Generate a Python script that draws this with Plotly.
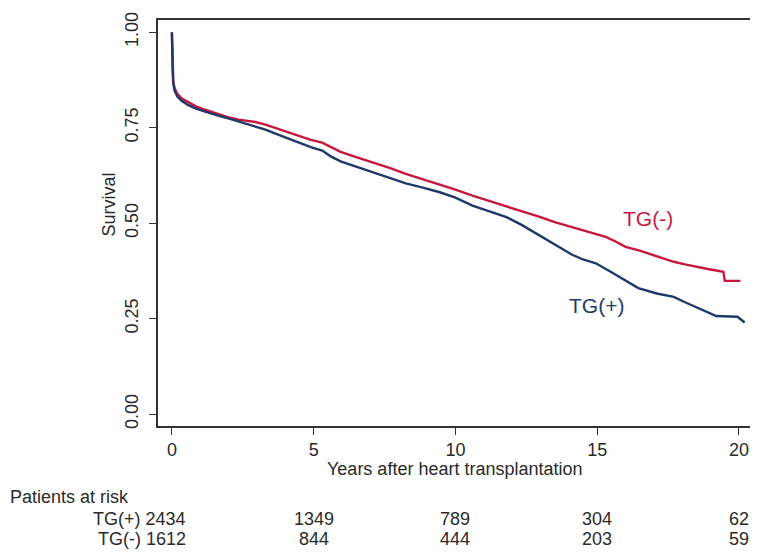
import plotly.graph_objects as go

# ---- data ----
t_neg = [0.0, 0.01, 0.03, 0.05, 0.1, 0.2, 0.35, 0.58, 0.85, 1.17, 1.45, 1.75, 2.05, 2.35, 2.65, 2.95,
         3.3, 3.7, 4.1, 4.5, 4.9, 5.3, 5.6, 5.95, 6.5, 7.1, 7.7, 8.25, 8.85, 9.45, 10.0, 10.6, 11.2,
         11.8, 12.35, 12.95, 13.5, 14.1, 14.7, 15.3, 15.65, 16.0, 16.5, 17.1, 17.7, 18.1, 18.45, 18.9,
         19.45, 19.5, 20.05]
s_neg = [1.000, 0.950, 0.900, 0.870, 0.852, 0.838, 0.826, 0.816, 0.806, 0.797, 0.790, 0.782, 0.776,
         0.771, 0.768, 0.765, 0.758, 0.748, 0.738, 0.728, 0.718, 0.711, 0.700, 0.687, 0.673, 0.659,
         0.644, 0.629, 0.615, 0.601, 0.588, 0.572, 0.558, 0.545, 0.531, 0.517, 0.503, 0.490, 0.477,
         0.464, 0.452, 0.438, 0.428, 0.413, 0.399, 0.392, 0.386, 0.380, 0.373, 0.349, 0.349]

t_pos = [0.0, 0.01, 0.03, 0.05, 0.1, 0.2, 0.35, 0.58, 0.85, 1.17, 1.45, 1.75, 2.05, 2.35, 2.65, 2.95,
         3.3, 3.7, 4.1, 4.5, 4.9, 5.3, 5.6, 5.95, 6.5, 7.1, 7.7, 8.25, 8.85, 9.45, 10.0, 10.6, 11.2,
         11.8, 12.35, 12.95, 13.5, 14.1, 14.5, 14.95, 15.4, 15.85, 16.45, 17.1, 17.7, 18.1, 18.45,
         18.8, 19.2, 19.95, 20.1, 20.2]
s_pos = [1.000, 0.940, 0.890, 0.865, 0.846, 0.831, 0.820, 0.809, 0.800, 0.792, 0.785, 0.779, 0.773,
         0.766, 0.760, 0.754, 0.745, 0.733, 0.721, 0.710, 0.699, 0.690, 0.675, 0.662, 0.648, 0.634,
         0.619, 0.604, 0.593, 0.581, 0.567, 0.546, 0.531, 0.516, 0.495, 0.468, 0.443, 0.418, 0.405,
         0.395, 0.376, 0.356, 0.330, 0.316, 0.307, 0.293, 0.282, 0.270, 0.257, 0.255, 0.245, 0.240]

risk_times = [0, 5, 10, 15, 20]
risk_pos = [2434, 1349, 789, 304, 62]
risk_neg = [1612, 844, 444, 203, 59]
x_ticks = [0, 5, 10, 15, 20]
y_ticks = [0.0, 0.25, 0.5, 0.75, 1.0]
y_ticklabels = ["0.00", "0.25", "0.50", "0.75", "1.00"]

RED = "#C8173F"
BLUE = "#1F3A68"
FONT = "Liberation Sans, Arial, sans-serif"
TXT = "#2a2a2a"

fig = go.Figure()
fig.add_trace(go.Scatter(x=t_neg, y=s_neg, mode="lines", line=dict(color=RED, width=2.4),
                         name="TG(-)", showlegend=False))
fig.add_trace(go.Scatter(x=t_pos, y=s_pos, mode="lines", line=dict(color=BLUE, width=2.4),
                         name="TG(+)", showlegend=False))


def txt(x, y, text, xref="paper", yref="paper", size=18, color=TXT, xanchor="center", angle=0):
    return dict(x=x, y=y, xref=xref, yref=yref, text=text, showarrow=False, textangle=angle,
                xanchor=xanchor, yanchor="middle", font=dict(family=FONT, size=size, color=color))


ann = []
# curve labels
ann.append(txt(16.8, 0.513, "TG(-)", xref="x", yref="y", size=21, color=RED))
ann.append(txt(14.97, 0.285, "TG(+)", xref="x", yref="y", size=21, color=BLUE))
# axis titles
ann.append(txt(-0.0822, 0.546, "Survival", angle=-90))
ann.append(txt(0.5, -0.107, "Years after heart transplantation"))
# risk table
ann.append(txt(-0.2517, -0.1756, "Patients at risk", xanchor="left"))
for i, tt in enumerate(risk_times):
    if i == 0:
        ann.append(txt(0.56, -0.229, f"TG(+) {risk_pos[0]}", xref="x", xanchor="right"))
        ann.append(txt(0.56, -0.278, f"TG(-) {risk_neg[0]}", xref="x", xanchor="right"))
    else:
        ann.append(txt(tt, -0.229, str(risk_pos[i]), xref="x"))
        ann.append(txt(tt, -0.278, str(risk_neg[i]), xref="x"))

# the page is offset by the browser's default 8px body margin, so the figure is 8px smaller
fig.update_layout(
    width=750, height=545,
    margin=dict(l=150, r=4, t=8, b=127),
    paper_bgcolor="white", plot_bgcolor="white",
    font=dict(family=FONT, size=18, color=TXT),
    annotations=ann,
    xaxis=dict(range=[-0.49, 20.46], tickvals=x_ticks, ticks="outside", ticklen=7, tickwidth=1.3,
               tickcolor="#333", showline=True, linecolor="#333", linewidth=1.5, mirror=True,
               showgrid=False, zeroline=False, tickfont=dict(family=FONT, size=18, color=TXT),
               ticklabelstandoff=0),
    yaxis=dict(range=[-0.031, 1.032], tickvals=y_ticks, ticktext=y_ticklabels, tickangle=-90,
               ticks="outside", ticklen=7, tickwidth=1.3, tickcolor="#333", showline=True,
               linecolor="#333", linewidth=1.5, mirror=True, showgrid=False, zeroline=False,
               tickfont=dict(family=FONT, size=18, color=TXT), ticklabelstandoff=4),
)

fig.write_html("out.html")
